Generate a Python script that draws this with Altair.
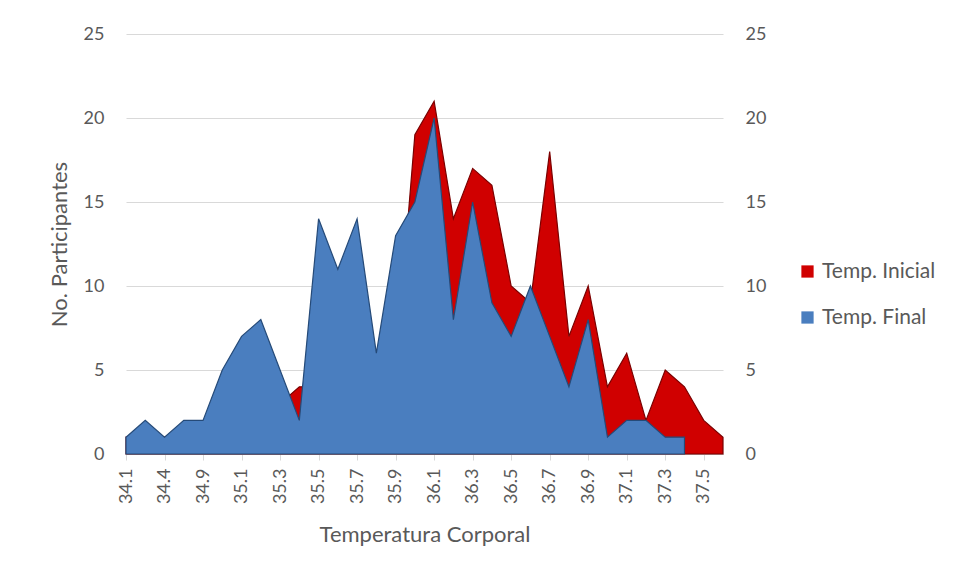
import altair as alt
import pandas as pd

# Body temperature categories (°C) shown on the category axis
temps = [
    "34.1", "34.3", "34.4", "34.7", "34.9", "35.0", "35.1", "35.2",
    "35.3", "35.4", "35.5", "35.6", "35.7", "35.8", "35.9", "36.0",
    "36.1", "36.2", "36.3", "36.4", "36.5", "36.6", "36.7", "36.8",
    "36.9", "37.0", "37.1", "37.2", "37.3", "37.4", "37.5", "37.6",
]

# Number of participants per temperature reading
temp_inicial = [
    1, 1, 1, 1, 1, 2, 3, 2, 3, 4, 4, 3, 4, 3, 5, 19,
    21, 14, 17, 16, 10, 9, 18, 7, 10, 4, 6, 2, 5, 4, 2, 1,
]
temp_final = [
    1, 2, 1, 2, 2, 5, 7, 8, 5, 2, 14, 11, 14, 6, 13, 15,
    20, 8, 15, 9, 7, 10, 7, 4, 8, 1, 2, 2, 1, 1, None, None,
]

series_names = ["Temp. Inicial", "Temp. Final"]
series_colors = ["#D00000", "#4A7EBF"]

rows = []
for name, values in zip(series_names, [temp_inicial, temp_final]):
    for t, v in zip(temps, values):
        if v is not None:
            rows.append({"temp": t, "n": v, "serie": name})
df = pd.DataFrame(rows)

FONT = "Lato"
LABEL_COLOR = "#595959"
GRID = "#d9d9d9"

x_enc = alt.X(
    "temp:O",
    scale=alt.Scale(type="point", domain=temps, padding=0),
    sort=temps,
    axis=alt.Axis(
        title="Temperatura Corporal",
        values=temps[::2],
        labelAngle=-90,
        labelPadding=8,
        labelFontSize=18,
        titleFontSize=22,
        titlePadding=21,
        tickSize=6,
        tickColor=GRID,
        domainColor="#bfbfbf",
        grid=False,
    ),
)

y_scale = alt.Scale(domain=[0, 25], nice=False, zero=True)
y_values = [0, 5, 10, 15, 20, 25]

color_enc = alt.Color(
    "serie:N",
    scale=alt.Scale(domain=series_names, range=series_colors),
    legend=alt.Legend(
        title=None,
        orient="none",
        legendX=671,
        legendY=227,
        symbolType="square",
        symbolSize=150,
        symbolStrokeWidth=0,
        labelFontSize=21,
        labelOffset=4,
        labelLimit=220,
        rowPadding=24,
    ),
)

inicial = (
    alt.Chart(df)
    .transform_filter(alt.datum.serie == "Temp. Inicial")
    .mark_area(stroke="#7a0000", strokeWidth=1.2, fillOpacity=1, interpolate="linear")
    .encode(
        x=x_enc,
        y=alt.Y(
            "n:Q",
            scale=y_scale,
            stack=None,
            axis=alt.Axis(
                orient="left",
                title="No. Participantes",
                values=y_values,
                grid=True,
                gridColor=GRID,
                domain=False,
                ticks=False,
                labelPadding=22,
                labelFontSize=18,
                titleFontSize=22,
                titlePadding=12,
            ),
        ),
        color=color_enc,
    )
)

final = (
    alt.Chart(df)
    .transform_filter(alt.datum.serie == "Temp. Final")
    .mark_area(stroke="#254a78", strokeWidth=1.2, fillOpacity=1, interpolate="linear")
    .encode(
        x=x_enc,
        y=alt.Y(
            "n:Q",
            scale=y_scale,
            stack=None,
            axis=alt.Axis(
                orient="right",
                title=None,
                values=y_values,
                grid=False,
                domain=False,
                ticks=False,
                labelPadding=22,
                labelFontSize=18,
            ),
        ),
        color=color_enc,
    )
)

chart = (
    alt.layer(inicial, final)
    .resolve_axis(y="independent")
    .properties(
        width=597,
        height=420,
        autosize=alt.AutoSizeParams(type="none"),
        padding={"left": 126, "top": 34, "right": 233, "bottom": 123},
        background="white",
    )
    .configure_view(stroke=None)
    .configure_axis(labelFont=FONT, titleFont=FONT, labelColor=LABEL_COLOR,
                    titleColor=LABEL_COLOR, titleFontWeight="normal")
    .configure_legend(labelFont=FONT, labelColor=LABEL_COLOR)
)

chart.save("out.html", embed_options={"renderer": "svg", "actions": False})
